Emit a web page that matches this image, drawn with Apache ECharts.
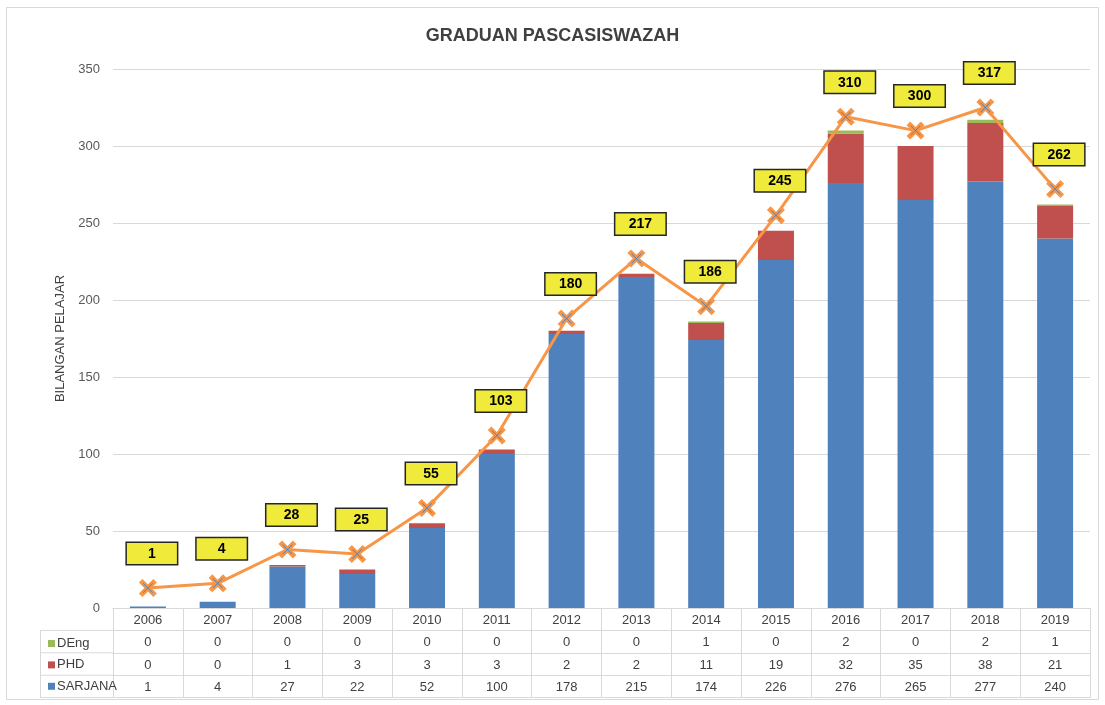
<!DOCTYPE html>
<html>
<head>
<meta charset="utf-8">
<script src="https://cdn.jsdelivr.net/npm/echarts@6/dist/echarts.min.js"></script>
<style>
    html, body { margin: 0; padding: 0; background: #fff; }
    #chart { width: 1105px; height: 705px; }
</style>
</head>
<body>
<div id="chart"></div>
<script>
    var years = ['2006', '2007', '2008', '2009', '2010', '2011', '2012', '2013', '2014', '2015', '2016', '2017', '2018', '2019'];
    var deng = [0, 0, 0, 0, 0, 0, 0, 0, 1, 0, 2, 0, 2, 1];
    var phd = [0, 0, 1, 3, 3, 3, 2, 2, 11, 19, 32, 35, 38, 21];
    var sarjana = [1, 4, 27, 22, 52, 100, 178, 215, 174, 226, 276, 265, 277, 240];
    // the orange line sits a little above the bars in the original
    var lineVals = [13, 16, 38, 35, 65, 112, 188, 227, 196, 255, 319, 310, 325, 272];
    var totals = years.map(function (y, i) { return deng[i] + phd[i] + sarjana[i]; });

    var FONT = 'Liberation Sans';
    var TXT = '#404040';
    var LINE = '#d9d9d9';

    var gridLeft = 113, gridRight = 15, gridTop = 69, gridBottom = 97;
    var rowH = 22.4;

    function tableAxis(idx, vals) {
        return {
            type: 'category',
            data: years,
            position: 'bottom',
            offset: rowH * idx,
            axisLine: { show: true, lineStyle: { color: LINE } },
            axisTick: { show: false },
            axisLabel: {
                show: !!vals,
                interval: 0,
                margin: 6,
                color: TXT,
                fontFamily: FONT,
                fontSize: 13,
                formatter: function (v, i) { return vals ? String(vals[i]) : ''; }
            }
        };
    }

    var xSym = 'path://M0,4 L4,0 L10,6 L16,0 L20,4 L14,10 L20,16 L16,20 L10,14 L4,20 L0,16 L6,10 Z';
    var xThin = 'path://M0,1 L1,0 L10,9 L19,0 L20,1 L11,10 L20,19 L19,20 L10,11 L1,20 L0,19 L9,10 Z';

    var myChart = echarts.init(document.getElementById('chart'));
    myChart.setOption({
        backgroundColor: '#fff',
        animation: false,
        title: {
            text: 'GRADUAN PASCASISWAZAH',
            left: 'center',
            top: 22,
            textStyle: { fontFamily: FONT, fontSize: 18, fontWeight: 'bold', color: TXT }
        },
        legend: {
            data: ['DEng', 'PHD', 'SARJANA'],
            orient: 'vertical',
            left: 43,
            top: 632,
            icon: 'rect',
            itemWidth: 7,
            itemHeight: 7,
            itemGap: 8.4,
            selectedMode: false,
            textStyle: { fontFamily: FONT, fontSize: 13, color: TXT, padding: [0, 0, 0, -3] }
        },
        grid: { left: gridLeft, right: gridRight, top: gridTop, bottom: gridBottom },
        xAxis: [
            {
                type: 'category',
                data: years,
                axisLine: { lineStyle: { color: LINE } },
                axisTick: { show: true, length: rowH * 4, lineStyle: { color: LINE } },
                axisLabel: { interval: 0, margin: 6, color: TXT, fontFamily: FONT, fontSize: 13 }
            },
            tableAxis(1, deng),
            tableAxis(2, phd),
            tableAxis(3, sarjana),
            tableAxis(4, null)
        ],
        yAxis: {
            type: 'value',
            min: 0,
            max: 350,
            interval: 50,
            name: 'BILANGAN PELAJAR',
            nameLocation: 'middle',
            nameGap: 41,
            nameTextStyle: { fontFamily: FONT, fontSize: 13, color: TXT },
            axisLine: { show: false },
            axisTick: { show: false },
            axisLabel: { color: '#595959', fontFamily: FONT, fontSize: 13, margin: 13 },
            splitLine: { lineStyle: { color: LINE } }
        },
        graphic: [
            { type: 'rect', shape: { x: 6.5, y: 7.5, width: 1092, height: 692 }, style: { fill: 'none', stroke: LINE, lineWidth: 1 }, silent: true },
            { type: 'line', shape: { x1: 40.5, y1: 608 + rowH, x2: 40.5, y2: 608 + rowH * 4 }, style: { stroke: LINE }, silent: true },
            { type: 'line', shape: { x1: 40, y1: 608 + rowH, x2: gridLeft, y2: 608 + rowH }, style: { stroke: LINE }, silent: true },
            { type: 'line', shape: { x1: 40, y1: 608 + rowH * 2, x2: gridLeft, y2: 608 + rowH * 2 }, style: { stroke: LINE }, silent: true },
            { type: 'line', shape: { x1: 40, y1: 608 + rowH * 3, x2: gridLeft, y2: 608 + rowH * 3 }, style: { stroke: LINE }, silent: true },
            { type: 'line', shape: { x1: 40, y1: 608 + rowH * 4, x2: gridLeft, y2: 608 + rowH * 4 }, style: { stroke: LINE }, silent: true }
        ],
        series: [
            {
                name: 'SARJANA',
                type: 'bar',
                stack: 'g',
                barWidth: 36,
                itemStyle: { color: '#4F81BD' },
                data: sarjana
            },
            {
                name: 'PHD',
                type: 'bar',
                stack: 'g',
                itemStyle: { color: '#C0504D' },
                data: phd
            },
            {
                name: 'DEng',
                type: 'bar',
                stack: 'g',
                itemStyle: { color: '#9BBB59' },
                data: deng
            },
            {
                name: 'Jumlah',
                type: 'line',
                data: lineVals,
                symbol: xSym,
                symbolSize: 18,
                itemStyle: { color: '#F79646' },
                lineStyle: { color: '#F79646', width: 3 },
                z: 5,
                label: {
                    show: true,
                    position: 'top',
                    distance: 15,
                    offset: [4, 0],
                    formatter: function (p) { return totals[p.dataIndex]; },
                    backgroundColor: '#F0EB3A',
                    borderColor: '#262626',
                    borderWidth: 1.5,
                    width: 50,
                    height: 20,
                    lineHeight: 20,
                    align: 'center',
                    padding: [1, 0, 0, 0],
                    color: '#000',
                    fontFamily: FONT,
                    fontSize: 14,
                    fontWeight: 'bold'
                }
            },
            {
                name: 'x',
                type: 'line',
                data: lineVals,
                symbol: xThin,
                symbolSize: 10,
                itemStyle: { color: '#4F81BD' },
                lineStyle: { width: 0, opacity: 0 },
                z: 6,
                silent: true
            }
        ]
    });
</script>
</body>
</html>
